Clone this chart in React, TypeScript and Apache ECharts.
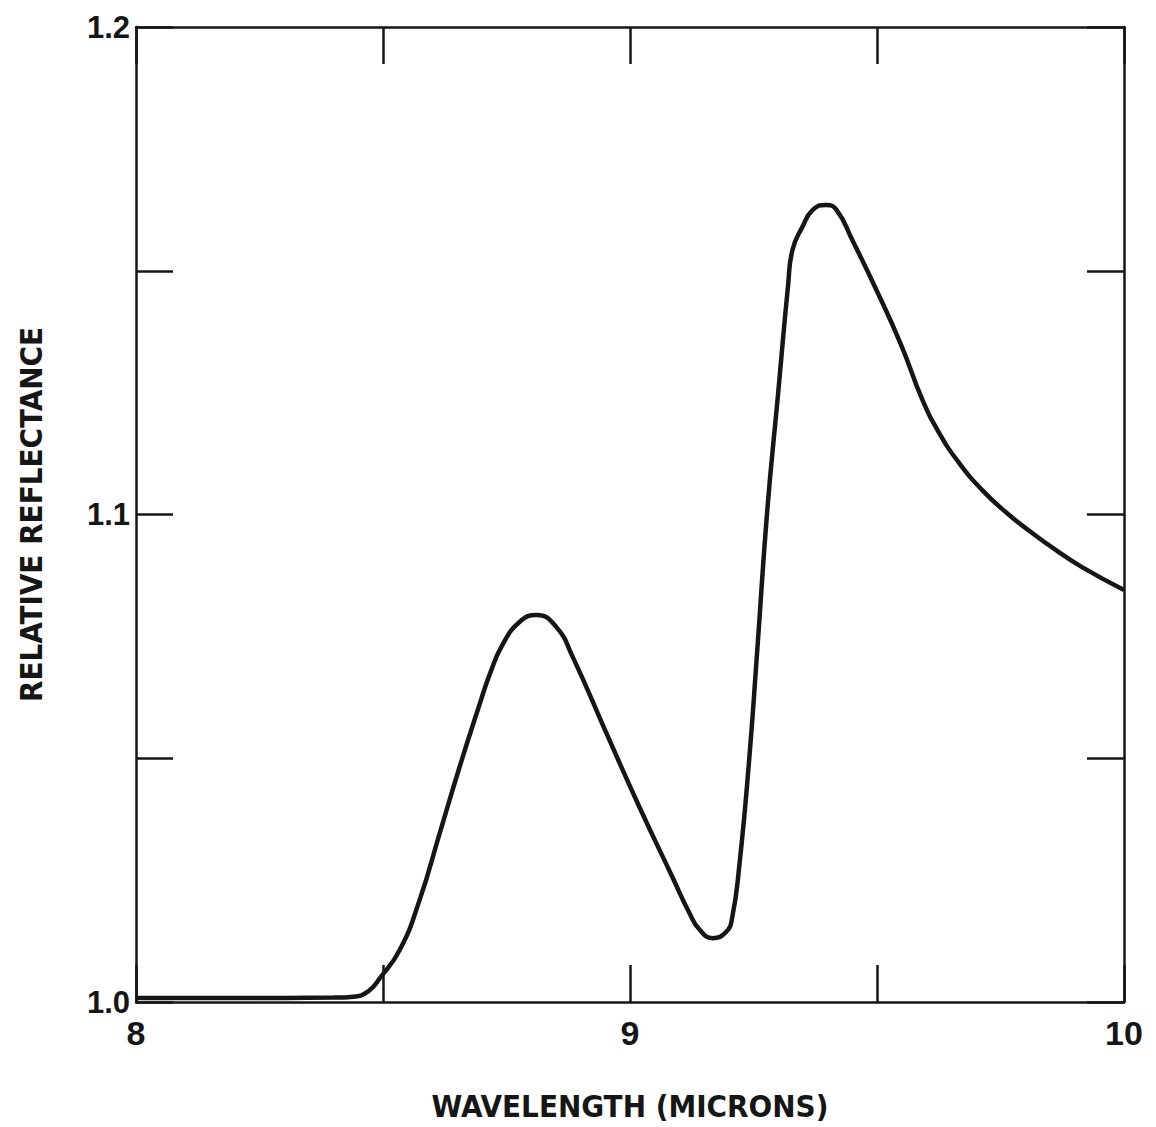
import React, { useEffect, useRef } from "react";
import * as echarts from "echarts";

const wavelength = [
  8.0, 8.2, 8.4, 8.44, 8.47, 8.493, 8.534, 8.574, 8.615, 8.655, 8.696, 8.716, 8.742, 8.777,
  8.811, 8.851, 8.884, 8.952, 9.019, 9.086, 9.12, 9.141, 9.167, 9.195, 9.207, 9.221, 9.24,
  9.258, 9.278, 9.3, 9.32, 9.329, 9.349, 9.37, 9.397, 9.418, 9.45, 9.5, 9.55, 9.592, 9.626,
  9.666, 9.713, 9.764, 9.814, 9.865, 9.915, 10.0,
];
const reflectance = [
  1.0008, 1.0008, 1.0009, 1.0011, 1.0022, 1.0048, 1.0107, 1.0209, 1.0347, 1.0482, 1.0612,
  1.0672, 1.0733, 1.078, 1.0794, 1.0769, 1.0708, 1.0552, 1.04, 1.0256, 1.0183, 1.0148, 1.0131,
  1.0144, 1.0174, 1.0277, 1.0482, 1.0727, 1.101, 1.125, 1.147, 1.1543, 1.159, 1.1625, 1.1635,
  1.1625, 1.1563, 1.1458, 1.1345, 1.1235, 1.1167, 1.1106, 1.105, 1.1002, 1.0962, 1.0925,
  1.0892, 1.0845,
];
const xTickLabels = ["8", "9", "10"];
const yTickLabels = ["1.0", "1.1", "1.2"];

const INK = "#161616";
const LABEL_FONT = "'Liberation Sans', Arial, Helvetica, sans-serif";
const TITLE_FONT = "'DejaVu Sans Condensed', 'DejaVu Sans', sans-serif";

export default function App() {
  const ref = useRef<HTMLDivElement>(null);
  useEffect(() => {
    if (!ref.current) return;
    const chart = echarts.init(ref.current, undefined, { renderer: "svg" });
    const data = wavelength.map((w, i) => [w, reflectance[i]]);
    const xFmt = (v: number) => {
      const s = String(Math.round(v * 10) / 10);
      return xTickLabels.includes(s) ? s : "";
    };
    const yFmt = (v: number) => {
      const s = (Math.round(v * 100) / 100).toFixed(2);
      const t = (Math.round(v * 10) / 10).toFixed(1);
      return s.endsWith("0") && yTickLabels.includes(t) ? t : "";
    };
    const axisLine = { show: true, lineStyle: { color: INK, width: 2.5 } };
    const tick = { show: true, inside: true, length: 37, lineStyle: { color: INK, width: 2.5 } };
    chart.setOption({
      animation: false,
      backgroundColor: "#ffffff",
      grid: { left: 136, right: 32, top: 27, bottom: 125, containLabel: false },
      xAxis: [
        {
          type: "value",
          position: "bottom",
          min: 8,
          max: 10,
          interval: 0.5,
          axisLine,
          axisTick: tick,
          splitLine: { show: false },
          axisLabel: {
            formatter: xFmt,
            color: INK,
            fontFamily: LABEL_FONT,
            fontWeight: "bold",
            fontSize: 34,
            margin: 14,
          },
          name: "WAVELENGTH (MICRONS)",
          nameLocation: "middle",
          nameGap: 88,
          nameTextStyle: {
            color: INK,
            fontFamily: TITLE_FONT,
            fontWeight: "bold",
            fontSize: 31,
          },
        },
        {
          type: "value",
          position: "top",
          min: 8,
          max: 10,
          interval: 0.5,
          axisLine,
          axisTick: tick,
          splitLine: { show: false },
          axisLabel: { show: false },
        },
      ],
      yAxis: [
        {
          type: "value",
          position: "left",
          min: 1.0,
          max: 1.2,
          interval: 0.05,
          axisLine,
          axisTick: tick,
          splitLine: { show: false },
          axisLabel: {
            formatter: yFmt,
            color: INK,
            fontFamily: LABEL_FONT,
            fontWeight: "bold",
            fontSize: 31,
            margin: 6,
          },
          name: "RELATIVE REFLECTANCE",
          nameLocation: "middle",
          nameGap: 90,
          nameTextStyle: {
            color: INK,
            fontFamily: TITLE_FONT,
            fontWeight: "bold",
            fontSize: 31,
          },
        },
        {
          type: "value",
          position: "right",
          min: 1.0,
          max: 1.2,
          interval: 0.05,
          axisLine,
          axisTick: tick,
          splitLine: { show: false },
          axisLabel: { show: false },
        },
      ],
      series: [
        {
          type: "line",
          data,
          xAxisIndex: 0,
          yAxisIndex: 0,
          smooth: 0.5,
          showSymbol: false,
          symbol: "none",
          lineStyle: { color: INK, width: 4.5 },
        },
      ],
    });
    return () => chart.dispose();
  }, []);
  return (
    <div
      ref={ref}
      style={{ position: "absolute", left: 0, top: 0, width: 1156, height: 1127, background: "#fff" }}
    />
  );
}
